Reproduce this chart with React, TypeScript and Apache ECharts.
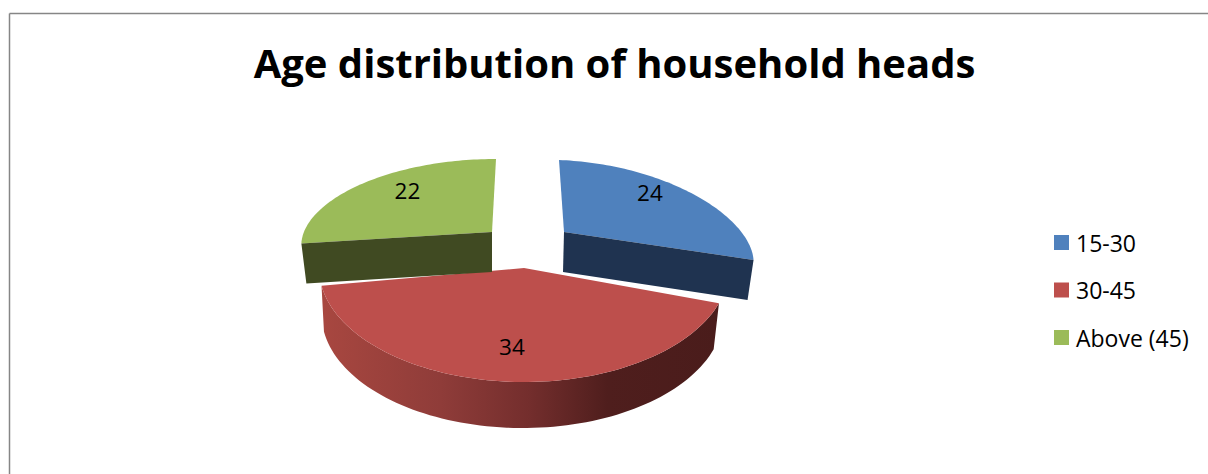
import React, { useEffect, useRef } from "react";
import * as echarts from "echarts";

const categories = ["15-30", "30-45", "Above (45)"];
const values = [24, 34, 22];
const titleText = "Age distribution of household heads";

const topColors = ["#4f81bd", "#bd4f4c", "#9bbb59"];
const cutColors = ["#1f3350", "", "#404a22"];
const FONT = "'Open Sans', Lato, sans-serif";

// Projected geometry of each exploded slice of the tilted pie
const geometry = [
  { cx: 564, cy: 232, rx: 188, ry: 72, rxB: 182, cxB: 564, depth: 40, lean: 5, tilt: 6, warp: 0.833, kx: 0.565, ky: 0.94 },
  { cx: 524, cy: 268, rx: 205, ry: 114, rxB: 201, cxB: 522.5, depth: 46, lean: 0, tilt: 0, warp: 1, kx: 0.75, ky: 0.695 },
  { cx: 492, cy: 232, rx: 190, ry: 73, rxB: 185, cxB: 492, depth: 40, lean: -4, tilt: 0, warp: 0.909, kx: 0.585, ky: 0.885 },
];

const total = values.reduce((a, b) => a + b, 0);
const sliceAngles = values.map((v, i) => {
  const before = values.slice(0, i).reduce((a, b) => a + b, 0);
  const start = -90 + (before / total) * 360;
  return { start, end: start + (v / total) * 360 };
});

const rad = (d: number) => (d * Math.PI) / 180;

function pointAt(g: any, deg: number, cx: number, rx: number, dy: number) {
  const t = rad(deg);
  // distance from the 12 o'clock radius, compressed so the widest point sits on the slice corner
  let off = ((deg + 90) % 360 + 360) % 360;
  if (off > 180) off -= 360;
  const phi = rad(-90 + off * g.warp);
  return [
    cx + rx * Math.cos(phi) + g.lean * Math.sin(t),
    g.cy + dy + g.ry * Math.sin(t) + g.tilt * Math.cos(t),
  ];
}

function arc(g: any, a: number, b: number, cx: number, rx: number, dy: number) {
  const pts: number[][] = [];
  const n = 80;
  for (let i = 0; i <= n; i++) pts.push(pointAt(g, a + ((b - a) * i) / n, cx, rx, dy));
  return pts;
}

function renderSlice(index: number) {
  return (_params: any, api: any) => {
    const value = api.value(0);
    const g = geometry[index];
    const { start, end } = sliceAngles[index];
    const children: any[] = [];
    const apex = [g.cx, g.cy];
    const apexB = [g.cx - (index === 0 ? 1 : 0), g.cy + g.depth];

    if (index === 1) {
      children.push({
        type: "polygon",
        shape: { points: [...arc(g, start, end, g.cx, g.rx, 0), ...arc(g, end, start, g.cxB, g.rxB, g.depth)] },
        style: {
          fill: new echarts.graphic.LinearGradient(0, 0, 1, 0, [
            { offset: 0, color: "#a84740" },
            { offset: 0.3, color: "#8f3c39" },
            { offset: 0.52, color: "#742e2d" },
            { offset: 0.72, color: "#4f1e1d" },
            { offset: 1, color: "#4a1c1b" },
          ]),
        },
      });
    }
    children.push({
      type: "polygon",
      shape: { points: [apex, ...arc(g, start, end, g.cx, g.rx, 0)] },
      style: { fill: topColors[index] },
    });
    if (index !== 1) {
      const edge = index === 0 ? end : start;
      const c = pointAt(g, edge, g.cx, g.rx, 0);
      const cB = pointAt(g, edge, g.cxB, g.rxB, g.depth);
      children.push({
        type: "polygon",
        shape: { points: [apex, c, cB, apexB] },
        style: { fill: cutColors[index] },
      });
    }
    const mid = rad((start + end) / 2);
    children.push({
      type: "text",
      x: g.cx + g.kx * g.rx * Math.cos(mid),
      y: g.cy + g.ky * g.ry * Math.sin(mid),
      style: {
        text: String(value),
        fill: "#000",
        font: `400 22.5px ${FONT}`,
        align: "center",
        verticalAlign: "middle",
      },
    });
    return { type: "group", children };
  };
}

export default function App() {
  const ref = useRef<HTMLDivElement>(null);
  useEffect(() => {
    document.body.style.margin = "0";
    const chart = echarts.init(ref.current!, undefined, { renderer: "svg" });
    // Draw order: the large slice first, then the two exploded ones
    const series = [1, 2, 0].map((i) => ({
      type: "custom",
      name: categories[i],
      coordinateSystem: "none",
      silent: true,
      itemStyle: { color: topColors[i] },
      data: [values[i]],
      renderItem: renderSlice(i),
    }));
    chart.setOption({
      animation: false,
      backgroundColor: "#fff",
      title: {
        text: titleText,
        left: 609.5,
        top: 37,
        textAlign: "center",
        textStyle: { fontFamily: FONT, fontSize: 40, fontWeight: 700, color: "#000" },
      },
      legend: {
        data: categories,
        orient: "vertical",
        left: 1049,
        top: 226,
        itemWidth: 15,
        itemHeight: 15,
        itemGap: 24.5,
        icon: "rect",
        textStyle: { fontFamily: FONT, fontSize: 23, color: "#000", padding: [0, 0, 0, 2] },
      },
      graphic: [
        { type: "line", shape: { x1: 9.5, y1: 13.5, x2: 1208, y2: 13.5 }, style: { stroke: "#868686", lineWidth: 1.5 } },
        { type: "line", shape: { x1: 9.5, y1: 13.5, x2: 9.5, y2: 474 }, style: { stroke: "#868686", lineWidth: 1.5 } },
      ],
      series,
    } as any);
    return () => chart.dispose();
  }, []);
  return <div ref={ref} style={{ width: 1208, height: 474 }} />;
}
